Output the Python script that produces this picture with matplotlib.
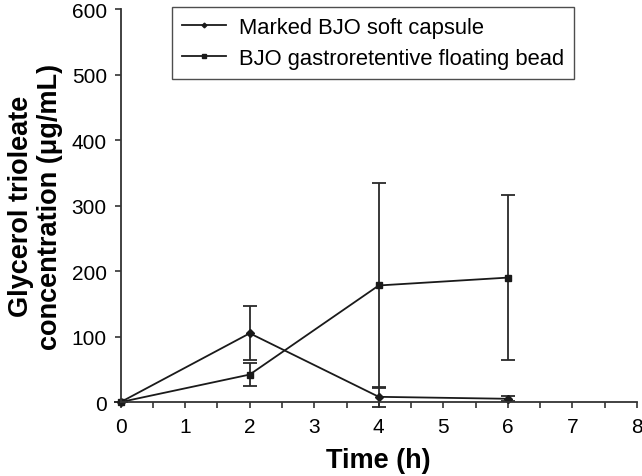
import matplotlib
matplotlib.use("Agg")
import matplotlib.pyplot as plt
from matplotlib.ticker import MultipleLocator

plt.rcParams['font.family'] = ['Liberation Sans', 'DejaVu Sans']

time_h = [0, 2, 4, 6]

capsule_label = 'Marked BJO soft capsule'
capsule_mean = [0, 105, 8, 5]
capsule_sd = [0, 41, 15, 4]

bead_label = 'BJO gastroretentive floating bead'
bead_mean = [0, 42, 178, 190]
bead_sd = [0, 18, 156, 126]

fig = plt.figure(figsize=(6.42, 4.77), dpi=100)
ax = fig.add_axes([0.188, 0.155, 0.804, 0.824])

color = '#1a1a1a'
# error bars drawn separately so the legend shows plain line + marker
ax.errorbar(time_h, capsule_mean, yerr=capsule_sd, fmt='none', ecolor='#2a2a2a',
            capsize=5, capthick=1.3, elinewidth=1.3, clip_on=False)
ax.errorbar(time_h, bead_mean, yerr=bead_sd, fmt='none', ecolor='#2a2a2a',
            capsize=5, capthick=1.3, elinewidth=1.3, clip_on=False)
ax.plot(time_h, capsule_mean, color=color, lw=1.3, marker='D', ms=4,
        label=capsule_label, clip_on=False)
ax.plot(time_h, bead_mean, color=color, lw=1.3, marker='s', ms=4.5,
        label=bead_label, clip_on=False)

ax.set_xlim(0, 8)
ax.set_ylim(0, 600)
ax.xaxis.set_major_locator(MultipleLocator(1))
ax.xaxis.set_minor_locator(MultipleLocator(0.5))
ax.yaxis.set_major_locator(MultipleLocator(100))

for side in ['top', 'right']:
    ax.spines[side].set_visible(False)
for side in ['left', 'bottom']:
    ax.spines[side].set_linewidth(1.3)
    ax.spines[side].set_color('#333333')

ax.tick_params(axis='both', which='both', direction='out', length=4,
               width=1.2, color='#333333', labelsize=15)
ax.tick_params(axis='x', which='both', pad=7)
ax.tick_params(axis='y', which='both', pad=6)

ax.set_xlabel('Time (h)', fontsize=19.5, fontweight='bold', labelpad=8)
ax.set_ylabel('Glycerol trioleate\nconcentration (\u03bcg/mL)', fontsize=19.5,
              fontweight='bold', labelpad=6, linespacing=1.15)

leg = ax.legend(loc='upper left', bbox_to_anchor=(0.10, 1.005), fontsize=15.8,
                frameon=True, fancybox=False, edgecolor='#222222',
                handlelength=2.0, borderpad=0.45, labelspacing=0.45,
                handletextpad=0.6, borderaxespad=0.0, markerscale=0.6)
leg.get_frame().set_linewidth(1.0)

fig.savefig('out.png', dpi=100)
